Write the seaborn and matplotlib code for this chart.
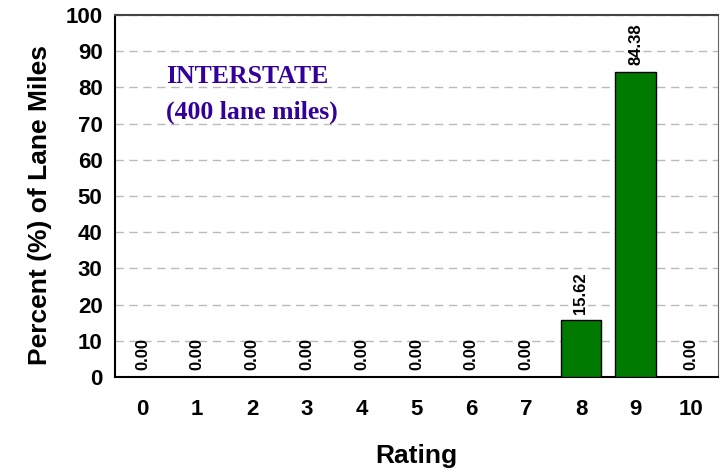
import matplotlib
matplotlib.use("Agg")
import matplotlib.pyplot as plt
import seaborn as sns
import pandas as pd
import numpy as np

ratings = ["0", "1", "2", "3", "4", "5", "6", "7", "8", "9", "10"]
percents = [0.00, 0.00, 0.00, 0.00, 0.00, 0.00, 0.00, 0.00, 15.62, 84.38, 0.00]
yticks = [0, 10, 20, 30, 40, 50, 60, 70, 80, 90, 100]

sns.set_style("white")
plt.rcParams['font.family'] = ['Liberation Sans', 'DejaVu Sans']
plt.rcParams['text.color'] = 'black'
plt.rcParams['axes.labelcolor'] = 'black'
plt.rcParams['xtick.color'] = 'black'
plt.rcParams['ytick.color'] = 'black'

df = pd.DataFrame({"Rating": ratings, "Percent": percents})

fig = plt.figure(figsize=(7.24, 4.72), dpi=100)
ax = fig.add_axes([115/724, 1 - 377/472, (718-115)/724, (377-15)/472])

sns.barplot(data=df, x="Rating", y="Percent", order=ratings, color="#007A00",
            saturation=1, width=0.74, edgecolor="black", linewidth=1.0, ax=ax, zorder=3)

ax.set_xlim(-0.5, len(ratings) - 0.5)
ax.set_ylim(0, 100)
ax.set_yticks(yticks)
ax.set_yticklabels([str(v) for v in yticks], fontsize=16, fontweight="bold", color="black")
ax.yaxis.grid(True, linestyle=(0, (6, 4)), color="#bbbbbb", linewidth=1.0, zorder=0)
ax.set_axisbelow(True)

ax.set_xticks(range(len(ratings)))
ax.set_xticklabels(ratings, fontsize=16, fontweight="bold", color="black")
ax.set_xticks(np.arange(-0.5, len(ratings), 1.0), minor=True)
ax.tick_params(axis="x", which="major", length=0, pad=16)
ax.tick_params(axis="x", which="minor", length=6, width=1.2, direction="out", color="black")
ax.tick_params(axis="y", which="major", length=6, width=1.2, direction="out", color="black", pad=3)

ax.set_xlabel("Rating", fontsize=19, fontweight="bold", labelpad=17, color="black")
ax.set_ylabel("Percent (%) of Lane Miles", fontsize=19, fontweight="bold", color="black")
ax.yaxis.set_label_coords(-0.105, 0.475)

for side in ["left", "bottom"]:
    ax.spines[side].set_color("black")
    ax.spines[side].set_linewidth(1.5)
ax.spines["top"].set_color("#444444")
ax.spines["top"].set_linewidth(1.5)
ax.spines["right"].set_color("#666666")
ax.spines["right"].set_linewidth(0.8)

for i, v in enumerate(percents):
    ax.annotate(f"{v:.2f}", xy=(i, v), xytext=(0, 5), textcoords="offset points",
                rotation=90, ha="center", va="bottom", fontsize=12, fontweight="bold",
                color="black", zorder=5)

ax.text(0.085, 0.83, "INTERSTATE", transform=ax.transAxes, color="#330099",
        fontsize=18.5, fontweight="bold", family=["Liberation Serif", "DejaVu Serif"], va="center")
ax.text(0.085, 0.73, "(400 lane miles)", transform=ax.transAxes, color="#330099",
        fontsize=18.5, fontweight="bold", family=["Liberation Serif", "DejaVu Serif"], va="center")

fig.savefig("out.png", dpi=100)
